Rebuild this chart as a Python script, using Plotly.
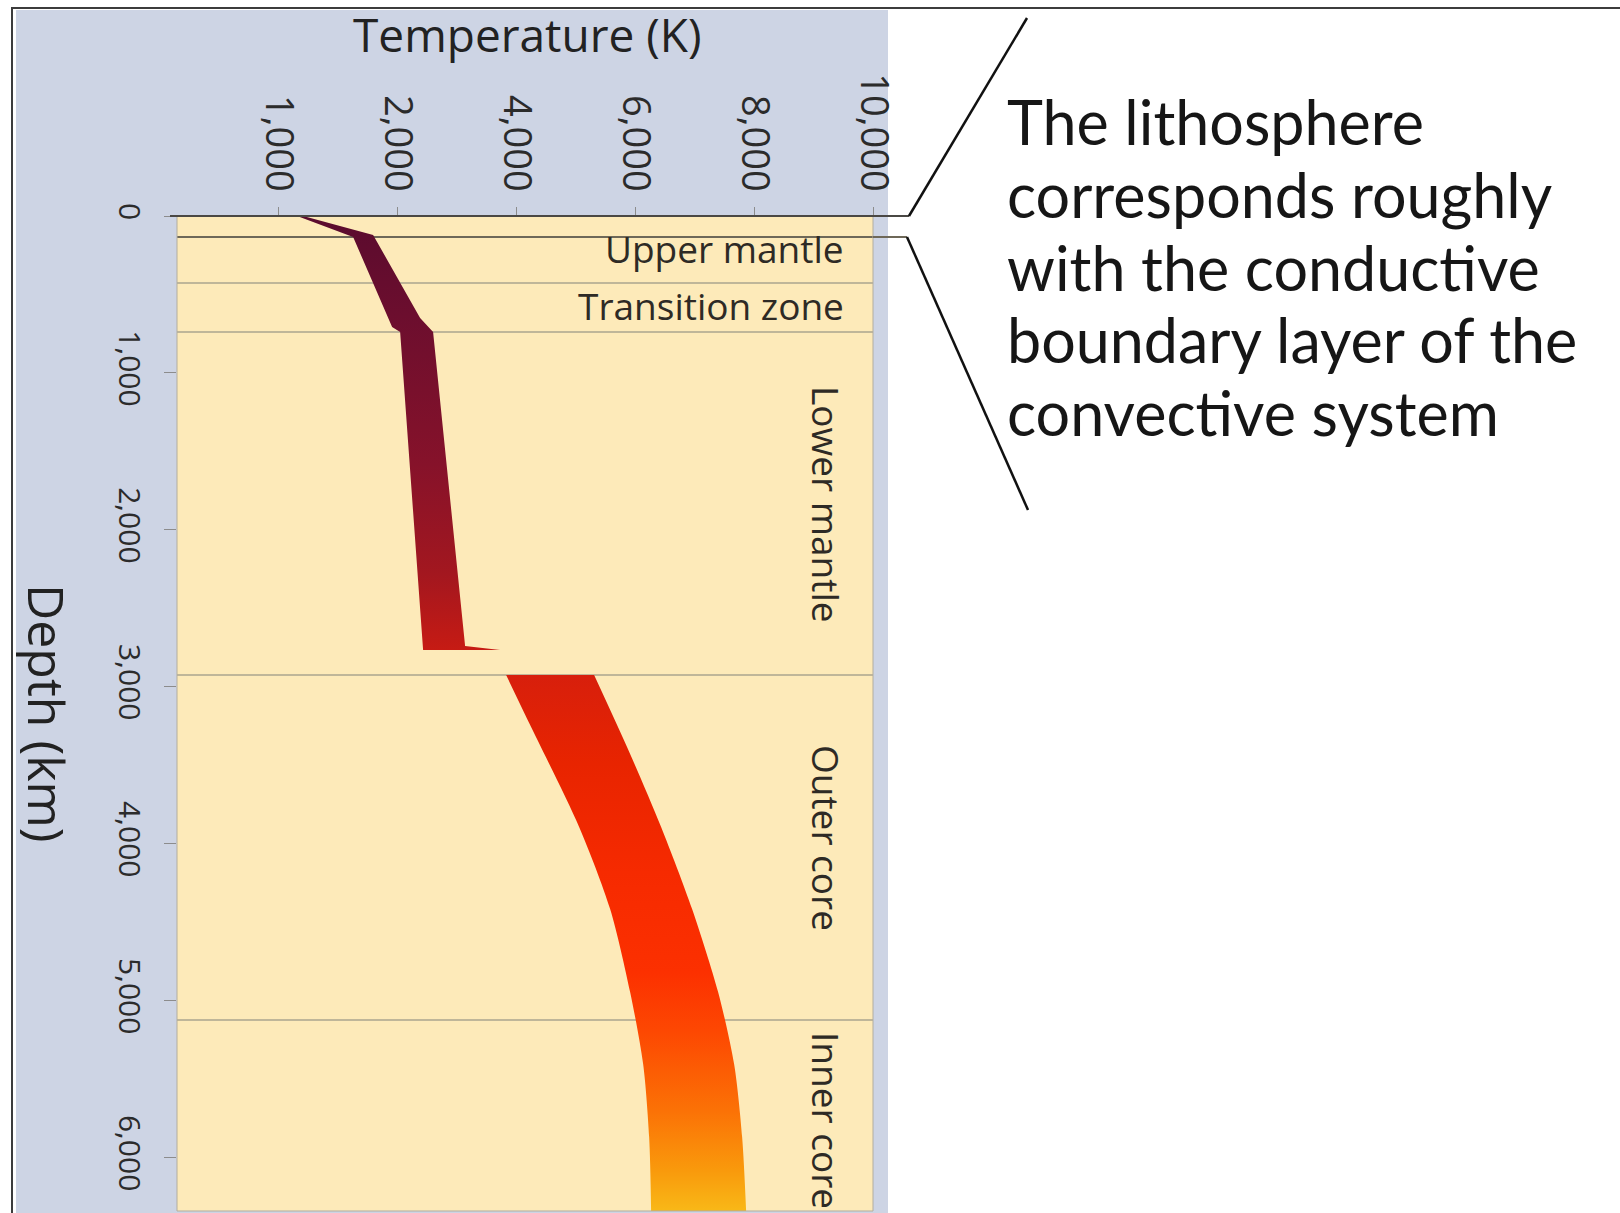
import plotly.graph_objects as go

# ---- axis ticks -------------------------------------------------------------
TEMP_TICK_VALUES = [0, 2000, 4000, 6000, 8000, 10000]
TEMP_TICK_LABELS = ["1,000", "2,000", "4,000", "6,000", "8,000", "10,000"]
DEPTH_TICK_VALUES = [0, 1000, 2000, 3000, 4000, 5000, 6000]
DEPTH_TICK_LABELS = ["0", "1,000", "2,000", "3,000", "4,000", "5,000", "6,000"]

# ---- mantle geotherm band (depth km, temperature K) -------------------------
MANTLE_COLD_DEPTH = [0, 134, 707, 739, 2765]
MANTLE_COLD_TEMP = [319, 1261, 1916, 2051, 2437]
MANTLE_HOT_DEPTH = [0, 121, 650, 739, 2740]
MANTLE_HOT_TEMP = [420, 1597, 2387, 2605, 3143]
# thin thermal boundary layer at the base of the mantle (D'')
DPP_TIP_DEPTH = 2765
DPP_TIP_TEMP = 3732

# ---- core geotherm band ------------------------------------------------------
CORE_COLD_DEPTH = [2925, 3231, 3893, 4416, 4945, 5403, 5868, 6340]
CORE_COLD_TEMP = [3833, 4220, 5060, 5581, 5917, 6136, 6237, 6270]
CORE_HOT_DEPTH = [2925, 3428, 3893, 4416, 4945, 5403, 5868, 6340]
CORE_HOT_TEMP = [5312, 5917, 6438, 6959, 7396, 7665, 7800, 7867]

# ---- layers ------------------------------------------------------------------
LITHOSPHERE_BASE_KM = 134
LAYER_BOUNDARY_KM = [427, 739, 2925, 5123]
LAYER_NAMES = ["Upper mantle", "Transition zone", "Lower mantle", "Outer core", "Inner core"]
LAYER_LABEL_DEPTH = [204, 573, 1835, 3963, 5760]

NOTE_LINES = [
    "The lithosphere",
    "corresponds roughly",
    "with the conductive",
    "boundary layer of the",
    "convective system",
]

DEPTH_MAX = 6340
TEMP_MIN, TEMP_MAX = -1700, 10000

# ---- page geometry (pixels) --------------------------------------------------
FIG_W, FIG_H = 1620, 1213
PL, PT, PW, PH = 177, 216, 696, 995


def px_x(px):
    return (px - PL) / PW


def px_y(py):
    return (PT + PH - py) / PH


FONT = "Open Sans, Noto Sans, sans-serif"
HAND = "Lato, Noto Sans, sans-serif"
PANEL = "#cdd4e4"
CREAM = "#fdeab9"

# depth-driven colour ramp for the geotherm
GRADIENT = [
    [0.00, "#5a0b2e"],
    [0.10, "#6c0e2e"],
    [0.25, "#86122a"],
    [0.36, "#a3171f"],
    [0.44, "#c81b13"],
    [0.46, "#d71f0c"],
    [0.55, "#e82400"],
    [0.66, "#f62a00"],
    [0.76, "#fc3000"],
    [0.82, "#fd4802"],
    [0.90, "#fb7206"],
    [0.96, "#f99a0c"],
    [1.00, "#f9b817"],
]
fill_grad = dict(type="vertical", colorscale=GRADIENT, start=0, stop=DEPTH_MAX)

fig = go.Figure()

# mantle band: cold edge downwards, D'' tail, hot edge back up
mantle_x = MANTLE_COLD_TEMP + [DPP_TIP_TEMP] + MANTLE_HOT_TEMP[::-1]
mantle_y = MANTLE_COLD_DEPTH + [DPP_TIP_DEPTH] + MANTLE_HOT_DEPTH[::-1]
fig.add_trace(go.Scatter(
    x=mantle_x, y=mantle_y, mode="lines", fill="toself",
    line=dict(width=0), fillgradient=fill_grad, hoverinfo="skip", showlegend=False,
))

# core band: smooth cold edge, then hot edge filled back to it
fig.add_trace(go.Scatter(
    x=CORE_COLD_TEMP, y=CORE_COLD_DEPTH, mode="lines",
    line=dict(width=0, shape="spline", smoothing=0.8),
    hoverinfo="skip", showlegend=False,
))
fig.add_trace(go.Scatter(
    x=CORE_HOT_TEMP, y=CORE_HOT_DEPTH, mode="lines", fill="tonextx",
    line=dict(width=0, shape="spline", smoothing=0.8),
    fillgradient=fill_grad, hoverinfo="skip", showlegend=False,
))

shapes = []
# blue-grey panel behind the chart, cream plotting field on top of it
shapes.append(dict(type="rect", xref="paper", yref="paper", layer="below",
                   x0=px_x(16), x1=px_x(888), y0=px_y(1230), y1=px_y(10),
                   fillcolor=PANEL, line=dict(width=0)))
shapes.append(dict(type="rect", xref="paper", yref="paper", layer="below",
                   x0=0, x1=1, y0=0, y1=1,
                   fillcolor=CREAM, line=dict(width=0)))
# layer boundaries inside the plot
shapes.append(dict(type="line", xref="x", yref="y", layer="below",
                   x0=TEMP_MIN, x1=TEMP_MAX, y0=LITHOSPHERE_BASE_KM, y1=LITHOSPHERE_BASE_KM,
                   line=dict(color="#6e6858", width=2)))
for d in LAYER_BOUNDARY_KM:
    shapes.append(dict(type="line", xref="x", yref="y", layer="below",
                       x0=TEMP_MIN, x1=TEMP_MAX, y0=d, y1=d,
                       line=dict(color="#aaa48f", width=1.5)))
# plot frame
for x0, y0, x1, y1 in [(PL, PT, PL, PT + PH), (PL + PW, PT, PL + PW, PT + PH),
                       (PL, PT + PH, PL + PW, PT + PH)]:
    shapes.append(dict(type="line", xref="paper", yref="paper",
                       x0=px_x(x0), y0=px_y(y0), x1=px_x(x1), y1=px_y(y1),
                       line=dict(color="#b2ad9e", width=1)))
# surface line and lithosphere line carried out to the bracket
shapes.append(dict(type="line", xref="paper", yref="paper",
                   x0=px_x(170), x1=px_x(909), y0=px_y(216), y1=px_y(216),
                   line=dict(color="#4a4844", width=2)))
shapes.append(dict(type="line", xref="paper", yref="paper",
                   x0=px_x(PL + PW), x1=px_x(907), y0=px_y(237), y1=px_y(237),
                   line=dict(color="#6e6858", width=2)))
# bracket
shapes.append(dict(type="line", xref="paper", yref="paper",
                   x0=px_x(909), y0=px_y(216), x1=px_x(1027), y1=px_y(18),
                   line=dict(color="#111111", width=2.5)))
shapes.append(dict(type="line", xref="paper", yref="paper",
                   x0=px_x(907), y0=px_y(237), x1=px_x(1028), y1=px_y(510),
                   line=dict(color="#111111", width=2.5)))
# outer frame
shapes.append(dict(type="line", xref="paper", yref="paper",
                   x0=px_x(12), y0=px_y(8), x1=px_x(12), y1=px_y(1230),
                   line=dict(color="#3c3c3c", width=2)))
shapes.append(dict(type="line", xref="paper", yref="paper",
                   x0=px_x(11), y0=px_y(8), x1=px_x(1630), y1=px_y(8),
                   line=dict(color="#3c3c3c", width=2)))

annotations = []
# axis titles
annotations.append(dict(xref="paper", yref="paper", x=px_x(527), y=px_y(34),
                        xanchor="center", yanchor="middle",
                        text="Temperature (K)", showarrow=False,
                        font=dict(family=FONT, size=46, color="#222222")))
annotations.append(dict(xref="paper", yref="paper", x=px_x(47), y=px_y(713),
                        xanchor="center", yanchor="middle",
                        text="Depth (km)", showarrow=False, textangle=90,
                        font=dict(family=FONT, size=50, color="#222222")))
# layer names
for i, (name, d) in enumerate(zip(LAYER_NAMES, LAYER_LABEL_DEPTH)):
    if i < 2:
        annotations.append(dict(xref="paper", yref="y", x=px_x(846), y=d,
                                xanchor="right", yanchor="middle",
                                text=name, showarrow=False,
                                font=dict(family=FONT, size=37, color="#2e2a25")))
    else:
        annotations.append(dict(xref="paper", yref="y", x=px_x(826), y=d,
                                xanchor="center", yanchor="middle", textangle=90,
                                text=name, showarrow=False,
                                font=dict(family=FONT, size=37, color="#2e2a25")))
# side note
for i, line in enumerate(NOTE_LINES):
    annotations.append(dict(xref="paper", yref="paper", x=px_x(1005), y=px_y(122 + 72.5 * i),
                            xanchor="left", yanchor="middle", text=line, showarrow=False,
                            font=dict(family=HAND, size=61, color="#161616")))

fig.update_layout(
    width=FIG_W, height=FIG_H,
    margin=dict(l=PL, r=FIG_W - PL - PW, t=PT, b=FIG_H - PT - PH, autoexpand=False),
    paper_bgcolor="white", plot_bgcolor=CREAM,
    showlegend=False,
    shapes=shapes, annotations=annotations,
    xaxis=dict(side="top", range=[TEMP_MIN, TEMP_MAX],
               tickvals=TEMP_TICK_VALUES, ticktext=TEMP_TICK_LABELS, tickangle=90,
               ticks="outside", ticklen=8, tickcolor="#8c8c8c", tickwidth=1,
               ticklabelstandoff=2,
               showgrid=False, zeroline=False, showline=False, fixedrange=True,
               tickfont=dict(family=FONT, size=38, color="#2b2b2b")),
    yaxis=dict(range=[DEPTH_MAX, 0],
               tickvals=DEPTH_TICK_VALUES, ticktext=DEPTH_TICK_LABELS, tickangle=90,
               ticks="outside", ticklen=12, tickcolor="#8c8c8c", tickwidth=1,
               ticklabelstandoff=9,
               showgrid=False, zeroline=False, showline=False, fixedrange=True,
               tickfont=dict(family=FONT, size=30, color="#2b2b2b")),
)

fig.write_html("out.html")
